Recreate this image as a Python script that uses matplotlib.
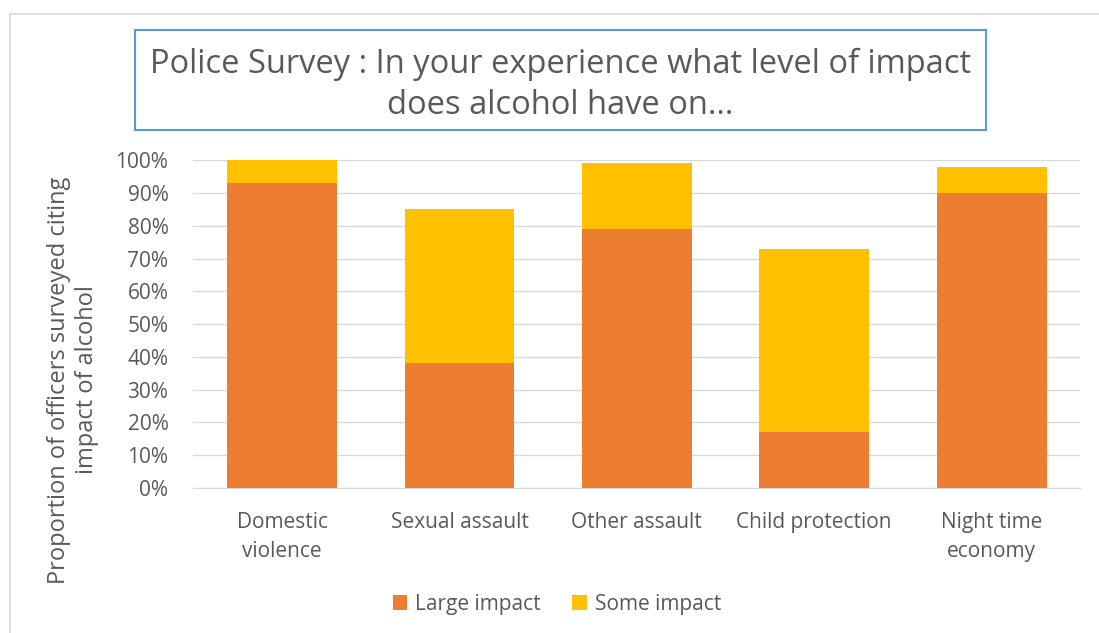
import matplotlib.pyplot as plt
from matplotlib.patches import Rectangle
from matplotlib.ticker import PercentFormatter

categories = ["Domestic\nviolence", "Sexual assault", "Other assault",
              "Child protection", "Night time\neconomy"]
large_impact = [93, 38, 79, 17, 90]
some_impact = [7, 47, 20, 56, 8]

ORANGE = "#ED7D31"
GOLD = "#FFC000"
TEXT = "#595959"

plt.rcParams["font.family"] = ["Open Sans", "DejaVu Sans"]

fig = plt.figure(figsize=(10.99, 6.33), dpi=100)
ax = fig.add_axes([0.176, 0.229, 0.807, 0.518])

x = range(len(categories))
ax.bar(x, large_impact, width=0.62, color=ORANGE, label="Large impact", zorder=3)
ax.bar(x, some_impact, width=0.62, bottom=large_impact, color=GOLD,
       label="Some impact", zorder=3)

ax.set_ylim(0, 100)
ax.set_xlim(-0.5, len(categories) - 0.5)
ax.set_yticks(range(0, 101, 10))
ax.yaxis.set_major_formatter(PercentFormatter(decimals=0))
ax.set_xticks(list(x))
ax.set_xticklabels(categories, linespacing=1.55)
ax.tick_params(axis="both", length=0, labelsize=15, colors=TEXT)
ax.tick_params(axis="x", pad=17)
ax.tick_params(axis="y", pad=18)
ax.grid(axis="y", color="#D9D9D9", linewidth=1, zorder=0)
for side in ["top", "right", "left"]:
    ax.spines[side].set_visible(False)
ax.spines["bottom"].set_color("#D9D9D9")

ax.set_ylabel("Proportion of officers surveyed citing\nimpact of alcohol",
              fontsize=17, color=TEXT, linespacing=1.2)
ax.yaxis.set_label_coords(-0.107, 0.33)

# title inside a blue framed box
fig.text(0.510, 0.866, "Police Survey : In your experience what level of impact\ndoes alcohol have on...",
         ha="center", va="center", fontsize=23.5, color=TEXT, linespacing=1.32)
fig.patches.append(Rectangle((0.123, 0.795), 0.774, 0.157, transform=fig.transFigure,
                             fill=False, edgecolor="#5B9BD5", linewidth=1.5))

# outer chart frame
fig.patches.append(Rectangle((0.009, -0.01), 1.0, 0.988, transform=fig.transFigure,
                             fill=False, edgecolor="#D9D9D9", linewidth=1.2))

ax.legend(loc="center", bbox_to_anchor=(0.41, -0.355), ncol=2, frameon=False,
          fontsize=15, labelcolor=TEXT, handlelength=0.7, handleheight=0.7,
          handletextpad=0.4, columnspacing=1.5)

fig.savefig("out.png", dpi=100)
